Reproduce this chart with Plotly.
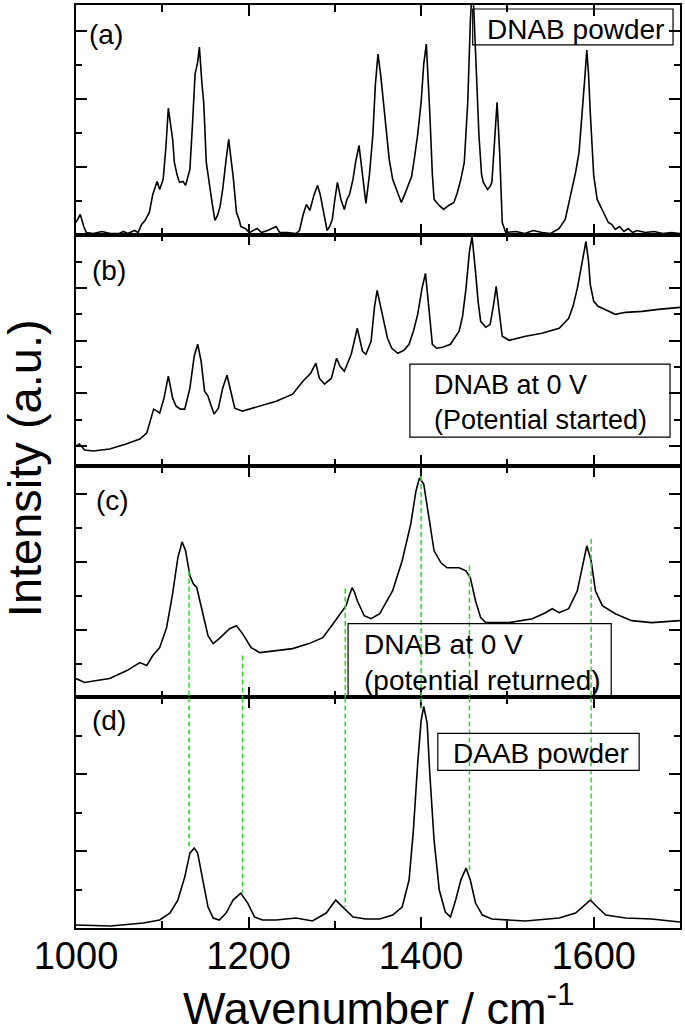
import plotly.graph_objects as go
from plotly.subplots import make_subplots

# ---------------- data (arbitrary units) ----------------
wn_a = [1000, 1005, 1009, 1012, 1020, 1030, 1040, 1050, 1055, 1060, 1068, 1072, 1076, 1080, 1085, 1089,
        1094, 1097, 1101, 1104, 1107, 1110, 1112, 1114, 1117, 1120, 1124, 1127, 1132, 1135, 1138, 1141,
        1143, 1146, 1148, 1151, 1155, 1158, 1161, 1164, 1167, 1170, 1174, 1177, 1179, 1182, 1186, 1189,
        1191, 1196, 1201, 1210, 1215, 1222, 1232, 1236, 1245, 1255, 1259, 1263, 1267, 1271, 1276, 1280,
        1283, 1286, 1291, 1294, 1297, 1300, 1303, 1307, 1311, 1314, 1317, 1321, 1324, 1328, 1332, 1336,
        1340, 1344, 1347, 1350, 1353, 1357, 1363, 1367, 1371, 1374, 1377, 1381, 1386, 1389, 1392, 1396,
        1400, 1403, 1406, 1408, 1410, 1413, 1415, 1421, 1426, 1432, 1438, 1442, 1446, 1450, 1454, 1457,
        1459, 1461, 1463, 1467, 1470, 1472, 1477, 1480, 1482, 1485, 1488, 1491, 1494, 1498, 1510, 1520,
        1530, 1540, 1550, 1556, 1560, 1567, 1571, 1575, 1579, 1583, 1587, 1590, 1592, 1594, 1596, 1598,
        1600, 1604, 1607, 1610, 1614, 1617, 1621, 1625, 1630, 1635, 1640, 1645, 1650, 1660, 1670, 1680,
        1690, 1700]
int_a = [12, 20, 8, 2, 1, 3, 1, 1, 3, 1, 4, 2, 10, 14, 22, 40,
         53, 45, 55, 85, 126, 110, 95, 72, 60, 52, 53, 49, 65, 110, 160, 172,
         187, 150, 132, 72, 45, 30, 14, 19, 28, 45, 75, 95, 80, 59, 22, 15,
         8, 6, 2, 6, 2, 4, 8, 2, 2, 1, 4, 19, 30, 24, 40, 49,
         40, 25, 4, 8, 15, 35, 52, 35, 25, 35, 40, 55, 72, 89, 59, 31,
         59, 99, 150, 180, 160, 125, 75, 55, 45, 38, 32, 40, 52, 58, 75, 100,
         132, 170, 190, 160, 122, 60, 35, 29, 25, 29, 32, 42, 55, 72, 132, 212,
         245, 225, 182, 99, 60, 52, 45, 48, 52, 92, 132, 82, 12, 2, 3, 1,
         4, 2, 1, 4, 6, 15, 30, 45, 62, 82, 122, 160, 184, 160, 122, 85,
         59, 35, 30, 25, 18, 12, 10, 5, 8, 3, 6, 2, 4, 2, 3, 1,
         2, 1]

wn_b = [1000, 1004, 1010, 1020, 1039, 1058, 1074, 1082, 1086, 1090, 1094, 1097, 1102, 1107, 1112, 1116,
        1121, 1126, 1132, 1137, 1141, 1145, 1149, 1153, 1156, 1160, 1165, 1170, 1175, 1180, 1184, 1193,
        1213, 1232, 1251, 1263, 1272, 1278, 1282, 1288, 1296, 1302, 1306, 1311, 1319, 1326, 1332, 1336,
        1342, 1346, 1349, 1352, 1355, 1361, 1366, 1373, 1380, 1386, 1391, 1396, 1401, 1405, 1407, 1409,
        1413, 1418, 1425, 1434, 1444, 1448, 1452, 1456, 1459, 1461, 1463, 1466, 1469, 1475, 1480, 1484,
        1487, 1490, 1494, 1502, 1521, 1540, 1560, 1571, 1576, 1581, 1586, 1591, 1594, 1596, 1600, 1605,
        1610, 1625, 1637, 1656, 1675, 1700]
int_b = [20, 22, 16, 15, 17, 22, 27, 33, 45, 57, 55, 53, 68, 90, 68, 60,
         57, 57, 78, 110, 122, 105, 75, 70, 62, 52, 58, 78, 91, 72, 58, 55,
         60, 65, 72, 85, 93, 103, 88, 82, 88, 108, 100, 95, 112, 138, 115, 112,
         125, 160, 176, 165, 152, 128, 118, 113, 116, 122, 135, 152, 178, 193, 178, 158,
         122, 118, 119, 122, 135, 150, 178, 215, 230, 215, 195, 165, 145, 139, 142, 162,
         180, 158, 130, 126, 130, 133, 138, 148, 160, 178, 202, 225, 205, 182, 165, 160,
         158, 152, 154, 155, 157, 159]

wn_c = [1000, 1010, 1024, 1039, 1059, 1070, 1074, 1082, 1089, 1097, 1105, 1112, 1118, 1123, 1127, 1132,
        1136, 1140, 1144, 1147, 1153, 1159, 1166, 1178, 1186, 1193, 1203, 1213, 1232, 1251, 1270, 1286,
        1298, 1307, 1313, 1317, 1320, 1323, 1326, 1334, 1342, 1352, 1367, 1378, 1388, 1394, 1398, 1403,
        1409, 1415, 1423, 1430, 1444, 1452, 1457, 1463, 1469, 1475, 1502, 1529, 1544, 1552, 1560, 1571,
        1581, 1588, 1592, 1597, 1602, 1610, 1625, 1644, 1667, 1700]
int_c = [19, 15, 17, 19, 27, 33, 35, 32, 42, 50, 70, 104, 140, 156, 147, 122,
         114, 110, 96, 84, 62, 54, 59, 69, 72, 64, 50, 45, 47, 49, 54, 60,
         74, 85, 92, 103, 110, 105, 97, 82, 79, 84, 107, 137, 174, 207, 220, 214,
         180, 147, 135, 130, 130, 127, 120, 97, 80, 75, 75, 79, 85, 89, 85, 89,
         107, 137, 152, 137, 107, 92, 84, 77, 75, 77]

wn_d = [1000, 1040, 1078, 1097, 1109, 1118, 1126, 1132, 1137, 1141, 1147, 1153, 1159, 1166, 1174, 1182,
        1191, 1199, 1207, 1216, 1232, 1255, 1274, 1290, 1301, 1309, 1321, 1336, 1352, 1367, 1378, 1386,
        1391, 1396, 1400, 1403, 1407, 1410, 1415, 1421, 1428, 1434, 1440, 1446, 1452, 1457, 1463, 1471,
        1482, 1521, 1560, 1579, 1590, 1596, 1604, 1614, 1637, 1667, 1700]
int_d = [3, 2, 5, 8, 15, 28, 51, 75, 80, 75, 48, 21, 10, 8, 15, 28,
         35, 25, 11, 8, 8, 10, 7, 15, 28, 21, 11, 9, 9, 13, 21, 48,
         98, 165, 208, 222, 205, 155, 88, 38, 16, 11, 28, 48, 60, 48, 25, 13,
         9, 7, 10, 15, 23, 28, 21, 13, 10, 9, 6]

panel_labels = ["(a)", "(b)", "(c)", "(d)"]
box_texts = ["DNAB powder", "DNAB at 0 V<br>(Potential started)",
             "DNAB at 0 V<br>(potential returned)", "DAAB powder"]

# green guide lines: wavenumber, height where they start in (c), height where they end in (d)
guide_wn = [1131, 1193, 1312, 1400, 1456, 1597]
guide_top_c = [127, 42, 109, 222, 132, 159]
guide_end_d = [80, 35, 21, 220, 58, 28]

# ---------------- layout geometry (pixels) ----------------
W, H = 685, 1030
L, R, T, B = 76, 682, 3, 928
bounds = [3, 233, 465, 697, 928]


def fx(px):
    return (px - L) / (R - L)


def fy(py):
    return (B - py) / (B - T)


FONT = "Arial, 'Liberation Sans', Helvetica, sans-serif"

fig = make_subplots(rows=4, cols=1, shared_xaxes=True, vertical_spacing=0)

series = [(wn_a, int_a), (wn_b, int_b), (wn_c, int_c), (wn_d, int_d)]
for i, (x, y) in enumerate(series):
    fig.add_trace(go.Scatter(x=x, y=y, mode="lines", line=dict(color="black", width=1.6),
                             showlegend=False, hoverinfo="skip"), row=i + 1, col=1)

# y ranges and tick spacing per panel
y_ranges = [[0, 229], [0, 232], [0, 232], [0, 231]]
y_tick0 = [0, 20, 0, 0]
y_minor = [33.8, 26.4, 34, 38.5]

for i in range(4):
    r = i + 1
    fig.update_xaxes(row=r, col=1, range=[1000, 1700], showline=True, mirror="ticks",
                     linecolor="black", linewidth=1.6, ticks="inside", ticklen=11, tickwidth=2,
                     tickcolor="black", tick0=1000, dtick=200, showgrid=False, zeroline=False,
                     minor=dict(ticks="inside", ticklen=7, tickwidth=1.5, tickcolor="black",
                                dtick=100, tick0=1000, showgrid=False),
                     showticklabels=(r == 4), ticklabelstandoff=-6,
                     tickfont=dict(family=FONT, size=38, color="black"))
    fig.update_yaxes(row=r, col=1, range=y_ranges[i], showline=True, mirror="ticks",
                     linecolor="black", linewidth=1.6, ticks="inside", ticklen=11, tickwidth=2,
                     tickcolor="black", tick0=y_tick0[i], dtick=2 * y_minor[i],
                     showgrid=False, zeroline=False, showticklabels=False,
                     minor=dict(ticks="inside", ticklen=6, tickwidth=1.5, tickcolor="black",
                                dtick=y_minor[i], tick0=y_tick0[i], showgrid=False),
                     domain=[fy(bounds[i + 1]), fy(bounds[i])])

shapes = []
# guide lines (two segments each: lower part of panel c, upper part of panel d)
for xw, yc, yd in zip(guide_wn, guide_top_c, guide_end_d):
    shapes.append(dict(type="line", xref="x3", yref="y3", x0=xw, x1=xw, y0=yc, y1=y_ranges[2][0],
                       line=dict(color="#22dd22", width=1.5, dash="5px,3px")))
    shapes.append(dict(type="line", xref="x4", yref="y4", x0=xw, x1=xw, y0=y_ranges[3][1], y1=yd,
                       line=dict(color="#22dd22", width=1.5, dash="5px,3px")))

# text boxes (pixel rectangles)
boxes = [(474, 7, 675, 43), (411, 363, 672, 436), (349, 623, 613, 696), (439, 733, 641, 770)]
for (x0, y0, x1, y1) in boxes:
    shapes.append(dict(type="rect", xref="paper", yref="paper", x0=fx(x0), x1=fx(x1),
                       y0=fy(y1), y1=fy(y0), line=dict(color="black", width=1.2),
                       fillcolor="rgba(0,0,0,0)"))

annotations = []
label_pos = [(87, 32.5), (90, 269.5), (94, 500), (90, 720)]
for t, (px, py) in zip(panel_labels, label_pos):
    annotations.append(dict(text=t, x=fx(px), y=fy(py), xref="paper", yref="paper",
                            xanchor="left", yanchor="middle", showarrow=False,
                            font=dict(family=FONT, size=28, color="black")))

box_text_pos = [(486, 27.8, 28), (433, 401, 27), (363, 661.5, 28), (452, 753, 28)]
for t, (px, py, s) in zip(box_texts, box_text_pos):
    annotations.append(dict(text=t, x=fx(px), y=fy(py), xref="paper", yref="paper",
                            xanchor="left", yanchor="middle", align="left", showarrow=False,
                            font=dict(family=FONT, size=s, color="black")))

annotations.append(dict(text="Wavenumber / cm<sup>-1</sup>", x=fx(379), y=fy(1005),
                        xref="paper", yref="paper", xanchor="center", yanchor="middle",
                        showarrow=False, font=dict(family=FONT, size=45, color="black")))
annotations.append(dict(text="Intensity (a.u.)", x=fx(25), y=fy(467), textangle=-90,
                        xref="paper", yref="paper", xanchor="center", yanchor="middle",
                        showarrow=False, font=dict(family=FONT, size=47, color="black")))

fig.update_layout(width=W, height=H, margin=dict(l=L, r=W - R, t=T, b=H - B),
                  paper_bgcolor="white", plot_bgcolor="white", showlegend=False,
                  shapes=shapes, annotations=annotations,
                  font=dict(family=FONT, color="black"))

fig.write_html("out.html", config={"displayModeBar": False},
               post_script="document.body.style.margin='0';document.body.style.overflow='hidden';")
